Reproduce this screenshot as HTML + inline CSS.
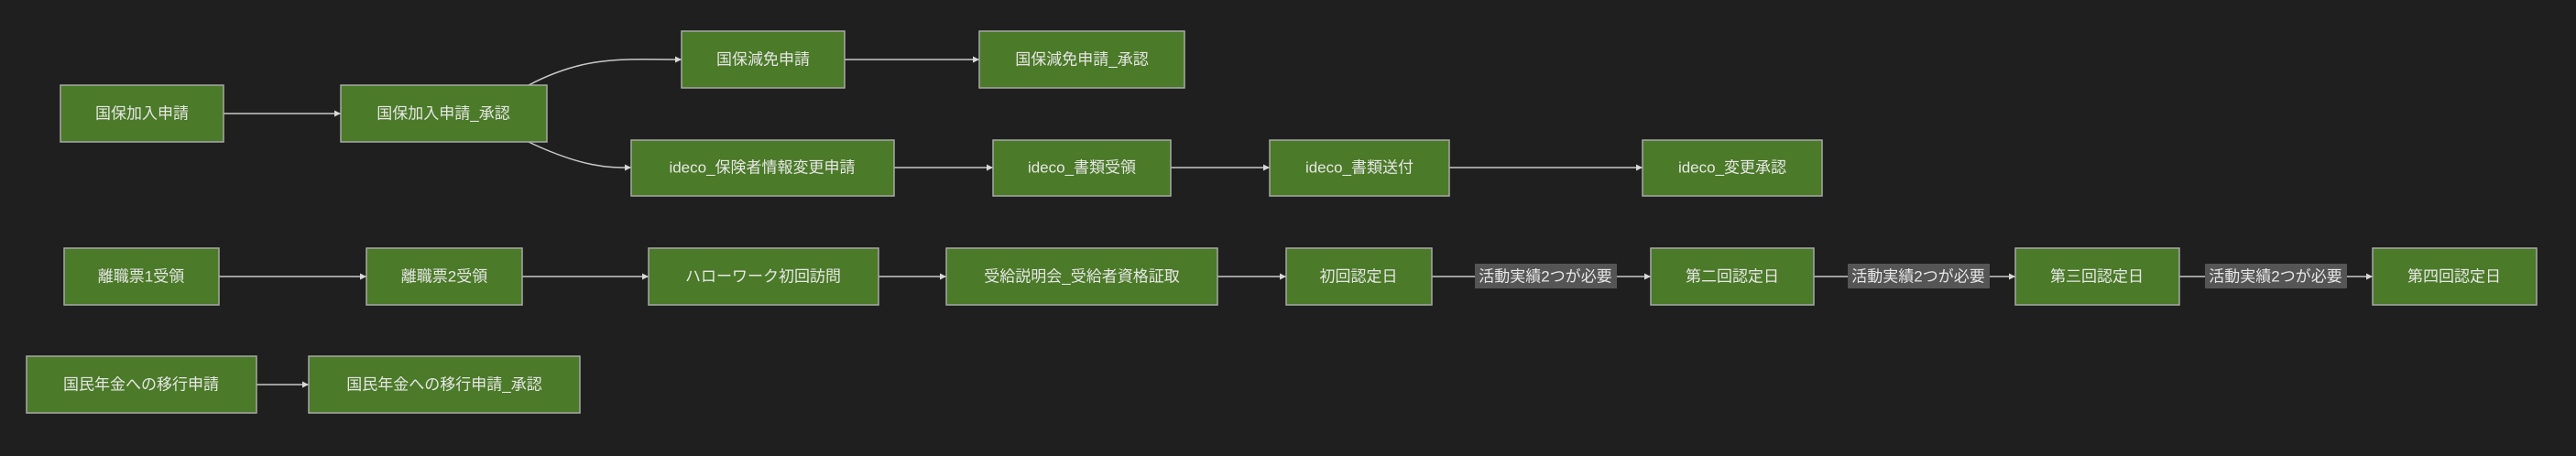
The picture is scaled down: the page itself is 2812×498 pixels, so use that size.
<!DOCTYPE html>
<html><head><meta charset="utf-8"><style>
html,body{margin:0;padding:0;background:#1f1f1f;}
svg{display:block}
text{font-family:"Liberation Sans","Noto Sans CJK JP",sans-serif;font-size:17px;fill:#e6e6e6;text-anchor:middle;dominant-baseline:central}
.n{fill:#4b7a28;stroke:#a8a8a8;stroke-width:1.5}
.e{stroke:#c8c8c8;stroke-width:1.5;fill:none;marker-end:url(#ah)}
.lb{fill:#555555}
</style></head><body>
<svg width="2812" height="498" viewBox="0 0 2812 498" xmlns="http://www.w3.org/2000/svg">
<defs><marker id="ah" viewBox="0 0 10 10" refX="10" refY="5" markerWidth="7" markerHeight="7" orient="auto" markerUnits="userSpaceOnUse"><path d="M0,0L10,5L0,10z" fill="#d8d8d8"/></marker></defs>
<!-- edges -->
<path class="e" d="M244,124H372"/>
<path class="e" d="M577,93C640,60 680,65 744,65"/>
<path class="e" d="M577,155C640,185 670,183 689,183"/>
<path class="e" d="M922,65H1069"/>
<path class="e" d="M976,183H1084"/>
<path class="e" d="M1278,183H1386"/>
<path class="e" d="M1582,183H1793"/>
<path class="e" d="M239,302H400"/>
<path class="e" d="M570,302H708"/>
<path class="e" d="M959,302H1033"/>
<path class="e" d="M1329,302H1404"/>
<path class="e" d="M1563,302H1802"/>
<path class="e" d="M1980,302H2200"/>
<path class="e" d="M2379,302H2590"/>
<path class="e" d="M280,420H337"/>
<!-- labels -->
<rect class="lb" x="1610" y="288" width="155" height="27"/><text x="1687" y="302">活動実績2つが必要</text>
<rect class="lb" x="2017" y="288" width="155" height="27"/><text x="2094" y="302">活動実績2つが必要</text>
<rect class="lb" x="2407" y="288" width="155" height="27"/><text x="2484" y="302">活動実績2つが必要</text>
<!-- nodes -->
<rect class="n" x="66" y="93" width="178" height="62"/><text x="155" y="124">国保加入申請</text>
<rect class="n" x="372" y="93" width="225" height="62"/><text x="484" y="124">国保加入申請_承認</text>
<rect class="n" x="744" y="34" width="178" height="62"/><text x="833" y="65">国保減免申請</text>
<rect class="n" x="1069" y="34" width="224" height="62"/><text x="1181" y="65">国保減免申請_承認</text>
<rect class="n" x="689" y="153" width="287" height="61"/><text x="832" y="183">ideco_保険者情報変更申請</text>
<rect class="n" x="1084" y="153" width="194" height="61"/><text x="1181" y="183">ideco_書類受領</text>
<rect class="n" x="1386" y="153" width="196" height="61"/><text x="1484" y="183">ideco_書類送付</text>
<rect class="n" x="1793" y="153" width="196" height="61"/><text x="1891" y="183">ideco_変更承認</text>
<rect class="n" x="70" y="271" width="169" height="62"/><text x="154" y="302">離職票1受領</text>
<rect class="n" x="400" y="271" width="170" height="62"/><text x="485" y="302">離職票2受領</text>
<rect class="n" x="708" y="271" width="251" height="62"/><text x="833" y="302">ハローワーク初回訪問</text>
<rect class="n" x="1033" y="271" width="296" height="62"/><text x="1181" y="302">受給説明会_受給者資格証取</text>
<rect class="n" x="1404" y="271" width="159" height="62"/><text x="1483" y="302">初回認定日</text>
<rect class="n" x="1802" y="271" width="178" height="62"/><text x="1891" y="302">第二回認定日</text>
<rect class="n" x="2200" y="271" width="179" height="62"/><text x="2289" y="302">第三回認定日</text>
<rect class="n" x="2590" y="271" width="179" height="62"/><text x="2679" y="302">第四回認定日</text>
<rect class="n" x="29" y="389" width="251" height="62"/><text x="154" y="420">国民年金への移行申請</text>
<rect class="n" x="337" y="389" width="296" height="62"/><text x="485" y="420">国民年金への移行申請_承認</text>
</svg>
</body></html>
